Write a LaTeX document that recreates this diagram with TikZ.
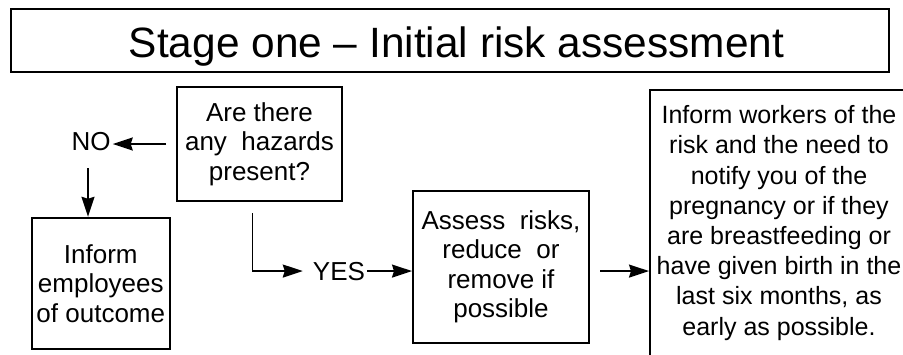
\documentclass[tikz,border=0pt]{standalone}
\usepackage{fontspec}
\setmainfont{Liberation Sans}
\usetikzlibrary{arrows.meta}
\begin{document}
\begin{tikzpicture}[x=1pt,y=-1pt,
  box/.style={draw, line width=2pt, align=center, inner sep=0pt},
  arr/.style={line width=1.8pt, -{Stealth[length=20pt,width=13pt,inset=2pt]}},
  lbl/.style={inner sep=2pt, font=\fontsize{26}{30}\selectfont},
  body/.style={font=\fontsize{26}{29.5}\selectfont},
  bodyr/.style={font=\fontsize{25}{30.2}\selectfont}]
\useasboundingbox (0,0) rectangle (903,354);
\clip (0,0) rectangle (903,354);

\node[box, minimum width=878pt, text height=48.5pt, text depth=14.5pt,
      font=\fontsize{42.4}{50}\selectfont, anchor=north west] (title) at (10,8)
  {\hspace*{13pt}Stage one – Initial risk assessment};

\node[box, body, minimum width=165pt, minimum height=114pt] (q) at (259.5,144)
  {Are there\\any~~hazards\\present?};

\node[box, body, minimum width=138pt, minimum height=131pt] (inform) at (100.8,283.3)
  {Inform\\employees\\of outcome};

\node[box, body, minimum width=176pt, minimum height=152pt] (assess) at (501,267)
  {Assess~~risks,\\reduce~~or\\remove if\\possible};

\node[box, bodyr, minimum width=258pt, minimum height=266pt, anchor=north west] (notify) at (649,89)
  {Inform workers of the\\risk and the need to\\notify you of the\\pregnancy or if they\\are breastfeeding or\\have given birth in the\\last six months, as\\early as possible.};

\node[lbl, anchor=base] (no) at (91,150) {NO};
\node[lbl, anchor=base] (yes) at (339,280) {YES};

\draw[arr] ([xshift=-10pt]q.west) -- (q.west -| no.east);
\draw[arr] ([xshift=-3pt,yshift=-16pt]no.south) coordinate (d0) -- (d0 |- inform.north);
\draw[arr] ([xshift=-7pt,yshift=-11pt]q.south) |- ([xshift=-8pt]yes.west);
\draw[arr] (yes.east) -- (yes.east -| assess.west);
\draw[arr] ([xshift=10pt]assess.east |- yes.east) -- (yes.east -| notify.west);
\end{tikzpicture}
\end{document}
